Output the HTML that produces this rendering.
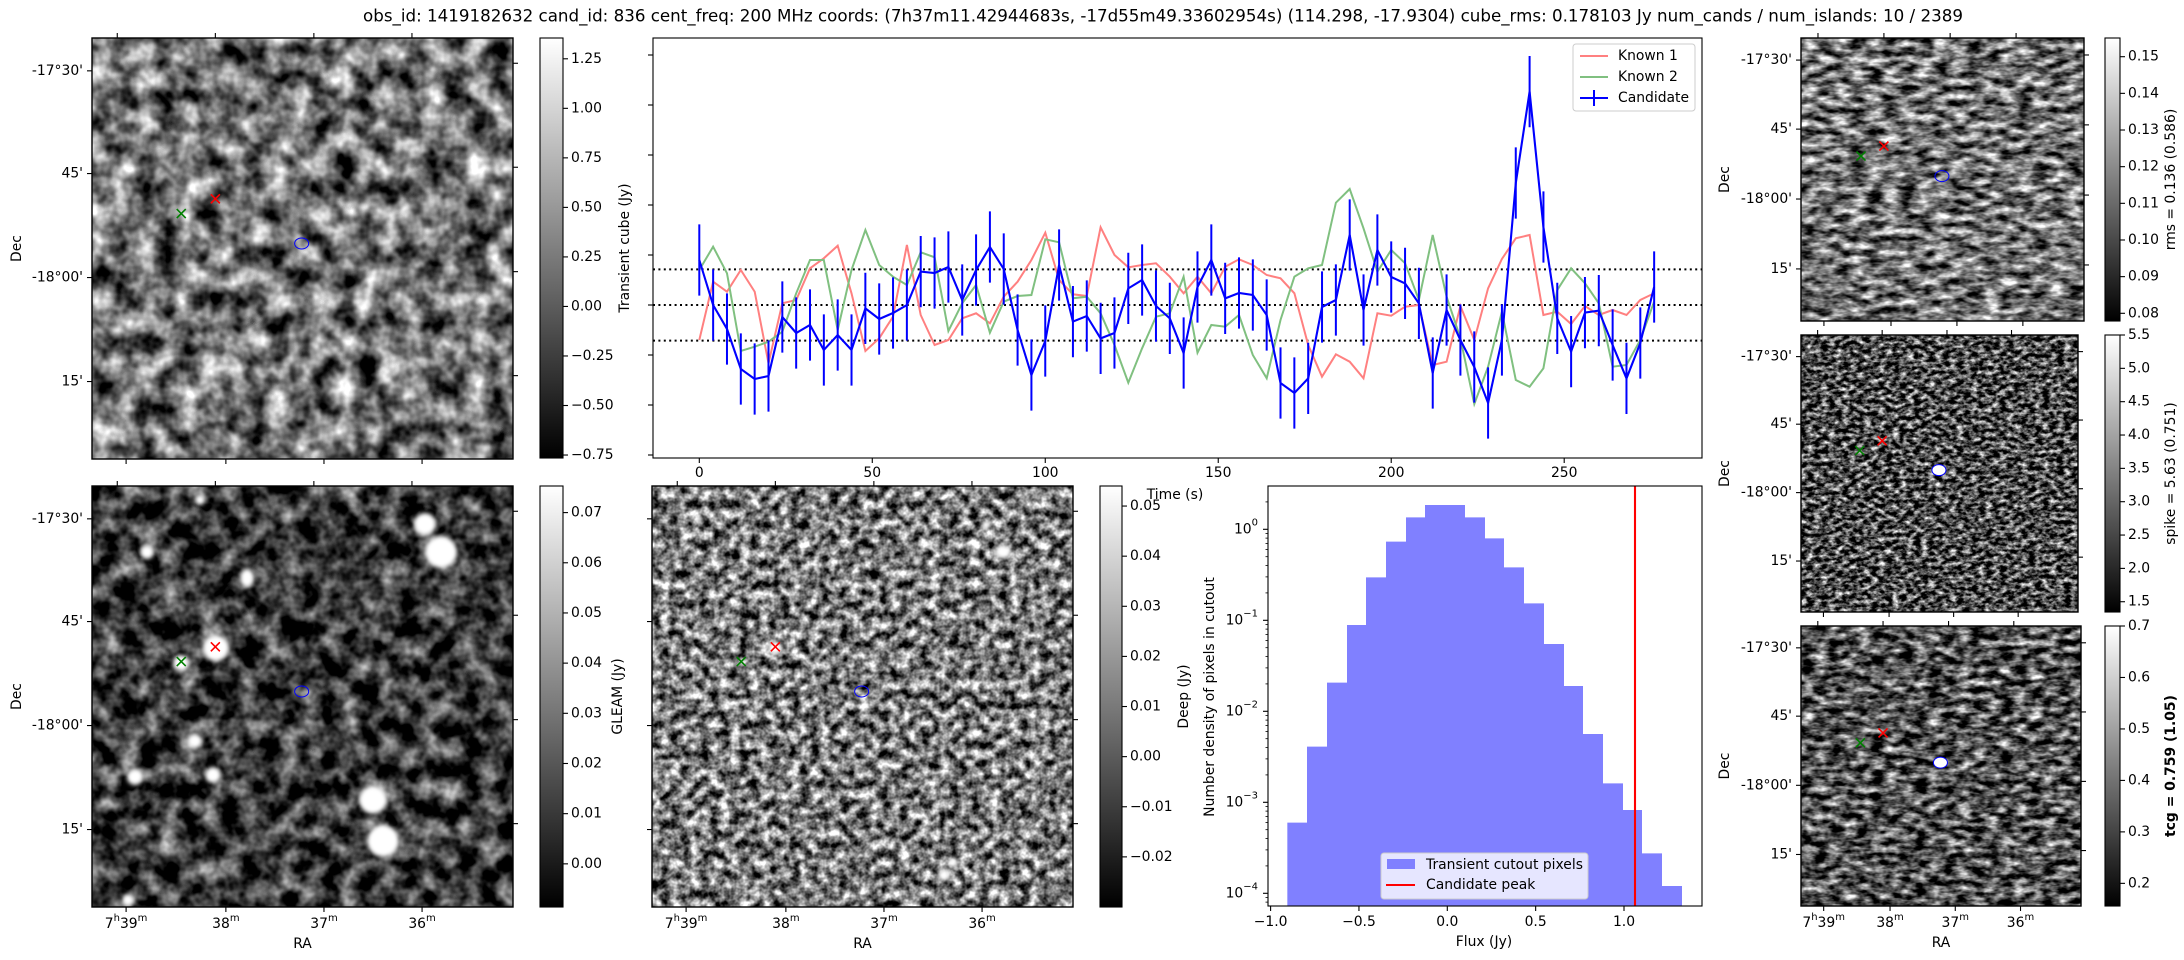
<!DOCTYPE html>
<html><head><meta charset="utf-8">
<style>
html,body{margin:0;padding:0;background:#fff;}
svg{display:block;font-family:"DejaVu Sans","Liberation Sans",sans-serif;}
</style></head>
<body>
<svg id="s" xmlns="http://www.w3.org/2000/svg" width="2184" height="960" viewBox="0 0 2184 960">
<defs>
<linearGradient id="cb" x1="0" y1="1" x2="0" y2="0"><stop offset="0" stop-color="#000"/><stop offset="1" stop-color="#fff"/></linearGradient>
<filter id="fA" x="0" y="0" width="1" height="1" color-interpolation-filters="sRGB">
<feTurbulence type="fractalNoise" baseFrequency="0.045" numOctaves="3" seed="3"/>
<feColorMatrix type="matrix" values="1 0 0 0 0 1 0 0 0 0 1 0 0 0 0 0 0 0 0 1"/>
<feComponentTransfer><feFuncR type="linear" slope="1.7" intercept="-0.4"/><feFuncG type="linear" slope="1.7" intercept="-0.4"/><feFuncB type="linear" slope="1.7" intercept="-0.4"/><feFuncA type="linear" slope="0" intercept="1"/></feComponentTransfer>
</filter>
<filter id="fG" x="0" y="0" width="1" height="1" color-interpolation-filters="sRGB">
<feTurbulence type="fractalNoise" baseFrequency="0.05" numOctaves="3" seed="7"/>
<feColorMatrix type="matrix" values="1 0 0 0 0 1 0 0 0 0 1 0 0 0 0 0 0 0 0 1"/>
<feComponentTransfer><feFuncR type="linear" slope="1.5" intercept="-0.52"/><feFuncG type="linear" slope="1.5" intercept="-0.52"/><feFuncB type="linear" slope="1.5" intercept="-0.52"/><feFuncA type="linear" slope="0" intercept="1"/></feComponentTransfer>
</filter>
<filter id="fD" x="0" y="0" width="1" height="1" color-interpolation-filters="sRGB">
<feTurbulence type="fractalNoise" baseFrequency="0.1" numOctaves="3" seed="11"/>
<feColorMatrix type="matrix" values="1 0 0 0 0 1 0 0 0 0 1 0 0 0 0 0 0 0 0 1"/>
<feComponentTransfer><feFuncR type="linear" slope="1.9" intercept="-0.47"/><feFuncG type="linear" slope="1.9" intercept="-0.47"/><feFuncB type="linear" slope="1.9" intercept="-0.47"/><feFuncA type="linear" slope="0" intercept="1"/></feComponentTransfer>
</filter>
<filter id="fR" x="0" y="0" width="1" height="1" color-interpolation-filters="sRGB">
<feTurbulence type="fractalNoise" baseFrequency="0.06 0.14" numOctaves="3" seed="5"/>
<feColorMatrix type="matrix" values="1 0 0 0 0 1 0 0 0 0 1 0 0 0 0 0 0 0 0 1"/>
<feComponentTransfer><feFuncR type="linear" slope="1.8" intercept="-0.45"/><feFuncG type="linear" slope="1.8" intercept="-0.45"/><feFuncB type="linear" slope="1.8" intercept="-0.45"/><feFuncA type="linear" slope="0" intercept="1"/></feComponentTransfer>
</filter>
<filter id="fS" x="0" y="0" width="1" height="1" color-interpolation-filters="sRGB">
<feTurbulence type="fractalNoise" baseFrequency="0.14 0.24" numOctaves="3" seed="9"/>
<feColorMatrix type="matrix" values="1 0 0 0 0 1 0 0 0 0 1 0 0 0 0 0 0 0 0 1"/>
<feComponentTransfer><feFuncR type="linear" slope="2.1" intercept="-0.75"/><feFuncG type="linear" slope="2.1" intercept="-0.75"/><feFuncB type="linear" slope="2.1" intercept="-0.75"/><feFuncA type="linear" slope="0" intercept="1"/></feComponentTransfer>
</filter>
<filter id="fT" x="0" y="0" width="1" height="1" color-interpolation-filters="sRGB">
<feTurbulence type="fractalNoise" baseFrequency="0.07 0.15" numOctaves="3" seed="13"/>
<feColorMatrix type="matrix" values="1 0 0 0 0 1 0 0 0 0 1 0 0 0 0 0 0 0 0 1"/>
<feComponentTransfer><feFuncR type="linear" slope="1.9" intercept="-0.62"/><feFuncG type="linear" slope="1.9" intercept="-0.62"/><feFuncB type="linear" slope="1.9" intercept="-0.62"/><feFuncA type="linear" slope="0" intercept="1"/></feComponentTransfer>
</filter>
<filter id="blur" x="-1" y="-1" width="3" height="3"><feGaussianBlur stdDeviation="2"/></filter>
</defs>
</svg>
<script>
const S=document.getElementById('s'),NS='http://www.w3.org/2000/svg';
function el(t,a,p){const e=document.createElementNS(NS,t);for(const k in a)e.setAttribute(k,a[k]);(p||S).appendChild(e);return e;}
function tx(x,y,s,o){o=o||{};const e=el('text',{x:x,y:y,'font-size':o.fs||13.9,'text-anchor':o.a||'middle','dominant-baseline':o.b||'middle',fill:o.c||'#000'});
 if(o.w)e.setAttribute('font-weight',o.w);
 if(o.r)e.setAttribute('transform','rotate('+o.r+' '+x+' '+y+')');
 if(o.html)e.innerHTML=s;else e.textContent=s;return e;}
function ln(x1,y1,x2,y2,c,w,extra){const a={x1:x1,y1:y1,x2:x2,y2:y2,stroke:c||'#000','stroke-width':w||1.1};if(extra)Object.assign(a,extra);return el('line',a);}

tx(1163,17,'obs_id: 1419182632 cand_id: 836 cent_freq: 200 MHz coords: (7h37m11.42944683s, -17d55m49.33602954s) (114.298, -17.9304) cube_rms: 0.178103 Jy num_cands / num_islands: 10 / 2389',{fs:16.7});

const L=[0.078,0.322,0.569,0.816],R=[0.06,0.307,0.555,0.802],B=[0.081,0.318,0.551,0.784],T=[0.06,0.293,0.527,0.76];
const DEC=["-17°30'","45'","-18°00'","15'"];
const RA=['7<tspan font-size="10" dy="-6">h</tspan><tspan dy="6">39</tspan><tspan font-size="10" dy="-6">m</tspan>','38<tspan font-size="10" dy="-6">m</tspan>','37<tspan font-size="10" dy="-6">m</tspan>','36<tspan font-size="10" dy="-6">m</tspan>'];
function panel(x,y,s,f,o){
 el('rect',{x:x,y:y,width:s,height:s,fill:'#777'});
 el('rect',{x:x,y:y,width:s,height:s,filter:'url(#'+f+')'});
 (o.blobs||[]).forEach(b=>el('ellipse',{cx:b[0],cy:b[1],rx:b[2],ry:b[3]||b[2],fill:'#fff',filter:'url(#blur)'}));
 const mk=(fx,fy,c)=>{const cx=x+fx*s,cy=y+fy*s,h=4.5;ln(cx-h,cy-h,cx+h,cy+h,c,1.6);ln(cx-h,cy+h,cx+h,cy-h,c,1.6);};
 mk(0.293,0.382,'#ff0000');mk(0.212,0.417,'#008000');
 const cx=x+0.498*s,cy=y+0.488*s;
 el('ellipse',{cx:cx,cy:cy,rx:7,ry:5.5,fill:o.cfill||'none',stroke:'#0000ff','stroke-width':1});
 el('rect',{x:x,y:y,width:s,height:s,fill:'none',stroke:'#000','stroke-width':1.4});
 L.forEach((f,i)=>{ln(x-5,y+f*s,x,y+f*s);if(o.dec)tx(x-9,y+f*s,DEC[i],{a:'end'});});
 R.forEach(f=>ln(x+s,y+f*s,x+s+5,y+f*s));
 B.forEach((f,i)=>{ln(x+f*s,y+s,x+f*s,y+s+5);if(o.ra)tx(x+f*s,y+s+17,RA[i],{html:1});});
 T.forEach(f=>ln(x+f*s,y-5,x+f*s,y));
 if(o.ra)tx(x+s/2,y+s+37,'RA');
 if(o.decl)tx(o.decl,y+s/2,'Dec',{r:-90});
}
function cbar(x,y,w,h,vmin,vmax,ticks,label,lx,bold){
 el('rect',{x:x,y:y,width:w,height:h,fill:'url(#cb)',stroke:'#000','stroke-width':1.1});
 ticks.forEach(t=>{const yy=y+h-(t[0]-vmin)/(vmax-vmin)*h;ln(x+w,yy,x+w+5,yy);tx(x+w+8,yy,t[1],{a:'start'});});
 tx(lx,y+h/2,label,{r:-90,w:bold?'bold':null});
}
panel(92,38,421,'fA',{dec:1,decl:17});
cbar(540,38,23,420,-0.765,1.355,[[-0.75,'−0.75'],[-0.5,'−0.50'],[-0.25,'−0.25'],[0,'0.00'],[0.25,'0.25'],[0.5,'0.50'],[0.75,'0.75'],[1,'1.00'],[1.25,'1.25']],'',0);
panel(92,486,421,'fG',{dec:1,ra:1,decl:17,blobs:[[425,524,11],[441,552,16],[147,552,7],[216,648,13],[181,663,8],[247,578,7,9],[135,777,8],[195,741,7],[213,775,8],[373,800,14],[383,841,16],[128,900,6],[200,500,5]]});
cbar(540,486,23,421,-0.0086,0.0753,[[0,'0.00'],[0.01,'0.01'],[0.02,'0.02'],[0.03,'0.03'],[0.04,'0.04'],[0.05,'0.05'],[0.06,'0.06'],[0.07,'0.07']],'GLEAM (Jy)',618);
panel(652,486,421,'fD',{ra:1,blobs:[[986,525,5,4],[1003,552,8,7],[917,562,4],[1038,666,3],[775,648,7],[944,875,6],[953,862,5],[700,520,3]]});
cbar(1100,486,22,421,-0.030,0.054,[[-0.02,'−0.02'],[-0.01,'−0.01'],[0,'0.00'],[0.01,'0.01'],[0.02,'0.02'],[0.03,'0.03'],[0.04,'0.04'],[0.05,'0.05']],'Deep (Jy)',1184);
panel(1801,38,283,'fR',{dec:1,decl:1725});
cbar(2105,38,15,283,0.0779,0.1551,[[0.08,'0.08'],[0.09,'0.09'],[0.10,'0.10'],[0.11,'0.11'],[0.12,'0.12'],[0.13,'0.13'],[0.14,'0.14'],[0.15,'0.15']],'rms = 0.136 (0.586)',2171);
panel(1801,335,277,'fS',{dec:1,decl:1725,cfill:'#fff'});
cbar(2105,335,15,277,1.346,5.5,[[1.5,'1.5'],[2,'2.0'],[2.5,'2.5'],[3,'3.0'],[3.5,'3.5'],[4,'4.0'],[4.5,'4.5'],[5,'5.0'],[5.5,'5.5']],'spike = 5.63 (0.751)',2171);
panel(1801,626,280,'fT',{dec:1,ra:1,decl:1725,cfill:'#fff'});
cbar(2105,626,15,280,0.156,0.7,[[0.2,'0.2'],[0.3,'0.3'],[0.4,'0.4'],[0.5,'0.5'],[0.6,'0.6'],[0.7,'0.7']],'tcg = 0.759 (1.05)',2171,1);

const AX={l:653,r:1702,t:38,b:458};
const X=t=>699.3+t*3.4596, Y=v=>305-200*v;
const zy=a=>a.map(z=>(855-z)/600);
const red=zy([960,785,815,750,815,1030,850,840,745,715,677,820,993,955,890,675,885,975,960,895,880,910,830,785,720,638,780,823,828,622,705,742,735,730,770,820,770,820,740,718,735,765,775,820,975,1070,1003,1025,1075,880,887,860,855,1035,1025,858,960,805,717,655,645,885,875,912,858,885,870,885,840,820]);
const grn=zy([750,680,760,993,980,965,935,820,720,720,930,750,630,735,770,795,697,712,933,850,795,938,845,828,825,658,667,835,830,880,975,1088,985,890,880,770,998,915,920,885,1005,1075,900,770,745,735,548,507,625,755,690,730,840,645,830,955,1152,1040,875,1080,1100,1045,810,745,790,850,1040,1035,960,845]);
const blu=[0.225,0.0,-0.12,-0.32,-0.37,-0.355,-0.06,-0.14,-0.10,-0.225,-0.15,-0.225,-0.017,-0.07,-0.04,0.0,0.167,0.16,0.19,0.025,0.175,0.29,0.18,-0.125,-0.35,-0.18,0.2,-0.083,-0.055,-0.167,-0.14,0.083,0.125,-0.005,-0.067,-0.24,0.09,0.225,0.033,0.06,0.05,-0.05,-0.39,-0.44,-0.367,-0.01,0.025,0.35,-0.025,0.275,0.14,0.108,0.008,-0.34,-0.025,-0.175,-0.31,-0.49,-0.175,0.61,1.067,0.39,-0.067,-0.233,-0.038,-0.028,-0.2,-0.367,-0.19,0.09];
const pts=a=>a.map((v,i)=>X(i*4).toFixed(1)+','+Y(v).toFixed(1)).join(' ');
[0.178,0,-0.178].forEach(v=>ln(AX.l,Y(v),AX.r,Y(v),'#000',2,{'stroke-dasharray':'2 3.4'}));
el('polyline',{points:pts(red),fill:'none',stroke:'#ff8080','stroke-width':2});
el('polyline',{points:pts(grn),fill:'none',stroke:'#80c080','stroke-width':2});
blu.forEach((v,i)=>ln(X(i*4),Y(v+0.178),X(i*4),Y(v-0.178),'#0000ff',2));
el('polyline',{points:pts(blu),fill:'none',stroke:'#0000ff','stroke-width':2.1});
el('rect',{x:AX.l,y:AX.t,width:AX.r-AX.l,height:AX.b-AX.t,fill:'none',stroke:'#000','stroke-width':1.1});
[-0.75,-0.5,-0.25,0,0.25,0.5,0.75,1,1.25].forEach(v=>ln(AX.l-5,Y(v),AX.l,Y(v)));
[0,50,100,150,200,250].forEach(t=>{ln(X(t),AX.b,X(t),AX.b+5);tx(X(t),473,String(t));});
tx(1175,495,'Time (s)');
tx(625,248,'Transient cube (Jy)',{r:-90});
el('rect',{x:1573,y:44,width:122,height:67,rx:3,fill:'rgba(255,255,255,0.8)',stroke:'#ccc','stroke-width':1});
ln(1580,56,1608,56,'#ff8080',2);tx(1618,56,'Known 1',{a:'start'});
ln(1580,77,1608,77,'#80c080',2);tx(1618,77,'Known 2',{a:'start'});
ln(1580,98,1608,98,'#0000ff',2.1);ln(1594,90,1594,106,'#0000ff',2);tx(1618,98,'Candidate',{a:'start'});

const HX=z=>1200+z/3,HY=z=>470+z/3;
const edges=[262,321,381,441,498,558,618,675,735,795,855,912,972,1032,1092,1149,1209,1269,1326,1386,1446];
const tops=[1058,830,638,465,322,215,142,105,105,142,205,292,400,522,648,792,940,1020,1150,1248];
let d='M'+HX(262)+' '+HY(1308);
tops.forEach((t,i)=>{d+=' L'+HX(edges[i])+' '+HY(t)+' L'+HX(edges[i+1])+' '+HY(t);});
d+=' L'+HX(1446)+' '+HY(1308)+'Z';
el('path',{d:d,fill:'#8080ff'});
ln(1635,486,1635,906,'#ff0000',2.1);
el('rect',{x:1268,y:486,width:434,height:420,fill:'none',stroke:'#000','stroke-width':1.1});
const HYv=v=>529.3-91*Math.log10(v);
[0,-1,-2,-3,-4].forEach(k=>{const yy=HYv(Math.pow(10,k));ln(1263,yy,1268,yy);
 tx(1258,yy,'10<tspan font-size="10" dy="-7">'+(k===0?'0':'−'+(-k))+'</tspan>',{a:'end',html:1});});
for(let k=-5;k<=0;k++)for(let m=2;m<=9;m++){const yy=HYv(m*Math.pow(10,k));if(yy>486&&yy<906)ln(1265.5,yy,1268,yy,'#000',0.8);}
[-1,-0.5,0,0.5,1].forEach(v=>{const xx=1447.3+v*176.7;ln(xx,906,xx,911);tx(xx,922,(v<0?'−':'')+Math.abs(v).toFixed(1));});
tx(1484,942,'Flux (Jy)');
tx(1210,697,'Number density of pixels in cutout',{r:-90});
el('rect',{x:1381,y:853,width:207,height:46,rx:3,fill:'rgba(255,255,255,0.8)',stroke:'#ccc','stroke-width':1});
el('rect',{x:1387,y:859,width:28,height:10,fill:'#8080ff'});
tx(1426,865,'Transient cutout pixels',{a:'start'});
ln(1386,885,1415,885,'#ff0000',2);
tx(1426,885,'Candidate peak',{a:'start'});
</script>
</body></html>
